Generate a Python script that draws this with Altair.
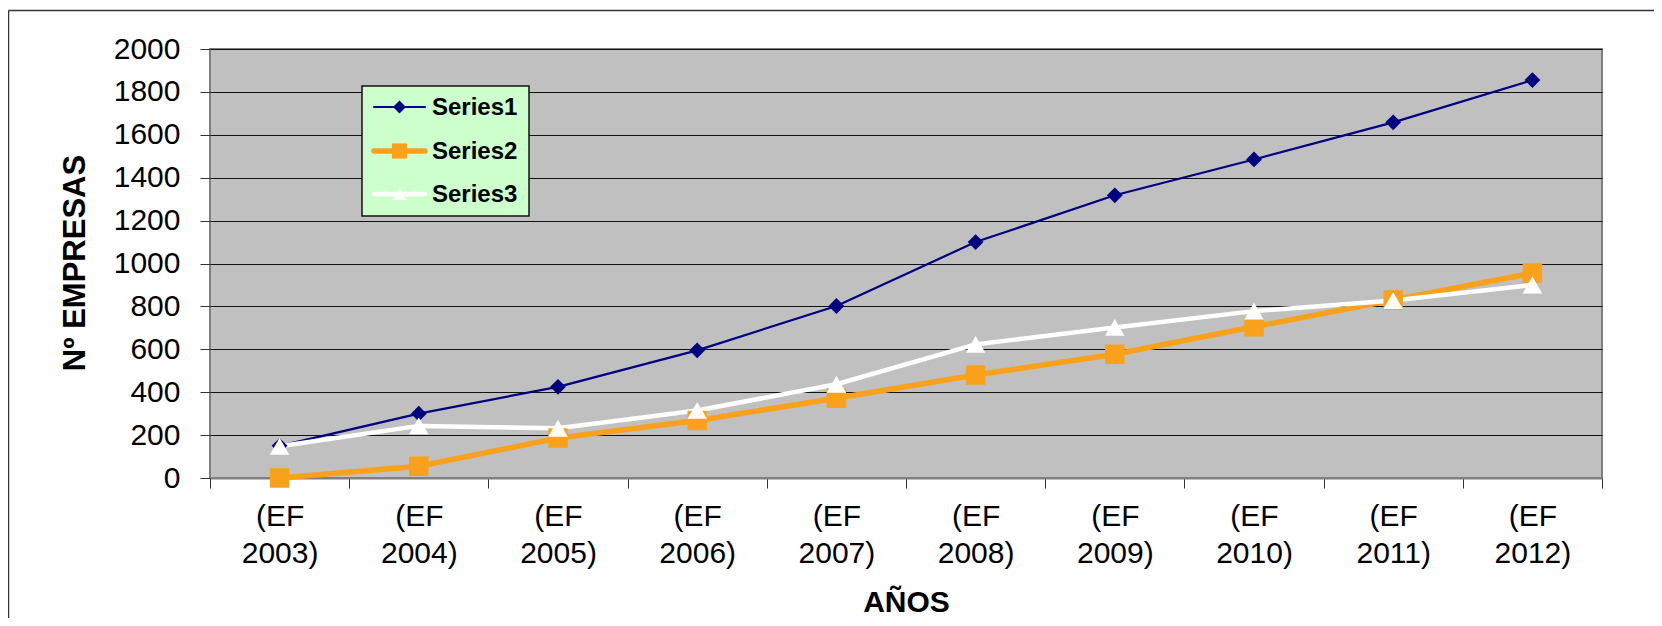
import altair as alt
import pandas as pd

# ---- data ----
years = ["(EF 2003)", "(EF 2004)", "(EF 2005)", "(EF 2006)", "(EF 2007)",
         "(EF 2008)", "(EF 2009)", "(EF 2010)", "(EF 2011)", "(EF 2012)"]
series_names = ["Series1", "Series2", "Series3"]
series1 = [150, 300, 425, 595, 802, 1100, 1318, 1485, 1658, 1855]
series2 = [0, 55, 186, 268, 372, 480, 577, 705, 830, 955]
series3 = [148, 243, 232, 315, 437, 623, 702, 778, 827, 900]
y_ticks = [0, 200, 400, 600, 800, 1000, 1200, 1400, 1600, 1800, 2000]

# ---- styling ----
colors = ["#000080", "#F9A11B", "#FFFFFF"]
line_widths = [2.2, 5.5, 4.5]
marker_shapes = ["diamond", "square", "triangle-up"]
marker_sizes = [250, 380, 380]
FONT = "Liberation Sans"

rows = []
for name, vals in zip(series_names, [series1, series2, series3]):
    for yr, v in zip(years, vals):
        rows.append({"year": yr, "series": name, "value": v})
df = pd.DataFrame(rows)

W, H = 1392, 429

x_enc = alt.X(
    "year:N", sort=years, bandPosition=0.5,
    scale=alt.Scale(type="band", paddingInner=0, paddingOuter=0),
    axis=alt.Axis(
        title="AÑOS", titleFont=FONT, titleFontSize=30, titleFontWeight="bold",
        titleColor="black", titleX=W / 2, titleY=133, titleBaseline="alphabetic",
        labelFont=FONT, labelFontSize=30, labelColor="black", labelAngle=0,
        labelExpr="split(datum.label, ' ')", labelLineHeight=37,
        labelBaseline="top", labelPadding=13, labelOverlap=False,
        tickBand="extent", tickSize=10, tickColor="#333333", tickWidth=1,
        domainColor="#808080", domainWidth=2, grid=False,
    ),
)
y_enc = alt.Y(
    "value:Q",
    scale=alt.Scale(domain=[0, 2000], nice=False, zero=True),
    axis=alt.Axis(
        values=y_ticks, format="d", title="Nº EMPRESAS", titleFont=FONT, titleFontSize=31,
        titleFontWeight="bold", titleColor="black", titleAngle=-90,
        titleX=-126, titleY=H / 2 - 1, titleBaseline="alphabetic", titleAlign="center",
        labelFont=FONT, labelFontSize=30, labelColor="black", labelPadding=20,
        labelFlush=False, labelOverlap=False,
        tickSize=10, tickColor="#333333", tickWidth=1, domain=False,
        grid=True, gridColor="#111111", gridWidth=1,
    ),
)
color_scale = alt.Scale(domain=series_names, range=colors)

base = alt.Chart(df)
layers = []
for name, w in zip(series_names, line_widths):
    sub = base.transform_filter(alt.datum.series == name)
    layers.append(
        sub.mark_line(strokeWidth=w, strokeJoin="round", strokeCap="round").encode(
            x=x_enc, y=y_enc,
            color=alt.Color("series:N", scale=color_scale, legend=None),
        )
    )
for name, shp, sz in zip(series_names, marker_shapes, marker_sizes):
    sub = base.transform_filter(alt.datum.series == name)
    layers.append(
        sub.mark_point(filled=True, opacity=1, shape=shp, size=sz, strokeWidth=0).encode(
            x=x_enc, y=y_enc,
            color=alt.Color("series:N", scale=color_scale, legend=None),
        )
    )

# ---- legend box (drawn as marks, placed in view pixels) ----
one = alt.Chart(pd.DataFrame({"k": [0]}))
legend_layers = [
    one.mark_rect(fill="#CCFFCC", stroke="#111111", strokeWidth=1.5).encode(
        x=alt.value(152), x2=alt.value(319), y=alt.value(37), y2=alt.value(167))
]
legend_rows_y = [58, 102, 145]
legend_marker_sizes = [170, 230, 200]
for name, col, w, shp, sz, ly in zip(series_names, colors, line_widths, marker_shapes,
                                     legend_marker_sizes, legend_rows_y):
    ldf = alt.Chart(pd.DataFrame({"series": [name]}))
    legend_layers.append(
        ldf.mark_rule(color=col, strokeWidth=w, strokeCap="round").encode(
            x=alt.value(164), x2=alt.value(215), y=alt.value(ly)))
    legend_layers.append(
        ldf.mark_point(filled=True, opacity=1, shape=shp, size=sz, strokeWidth=0, color=col).encode(
            x=alt.value(189.5), y=alt.value(ly)))
    legend_layers.append(
        ldf.mark_text(font=FONT, fontSize=24, fontWeight="bold", color="black",
                      align="left", baseline="middle").encode(
            text="series:N", x=alt.value(222), y=alt.value(ly + 1)))

border_v = one.mark_rule(color="#333333", strokeWidth=1.5).encode(
    x=alt.value(-201.5), y=alt.value(-38.5), y2=alt.value(570))
border_h = one.mark_rule(color="#333333", strokeWidth=1.5).encode(
    x=alt.value(-201.5), x2=alt.value(1445), y=alt.value(-38.5))

chart = alt.layer(border_v, border_h, *layers, *legend_layers).properties(
    width=W, height=H,
    autosize=alt.AutoSizeParams(type="none"),
    padding={"left": 202, "top": 41, "right": 52, "bottom": 140},
    background="white",
).configure_view(
    fill="#C0C0C0", stroke="#808080", strokeWidth=2,
)

chart.save("out.html", embed_options={"renderer": "svg", "actions": False})
